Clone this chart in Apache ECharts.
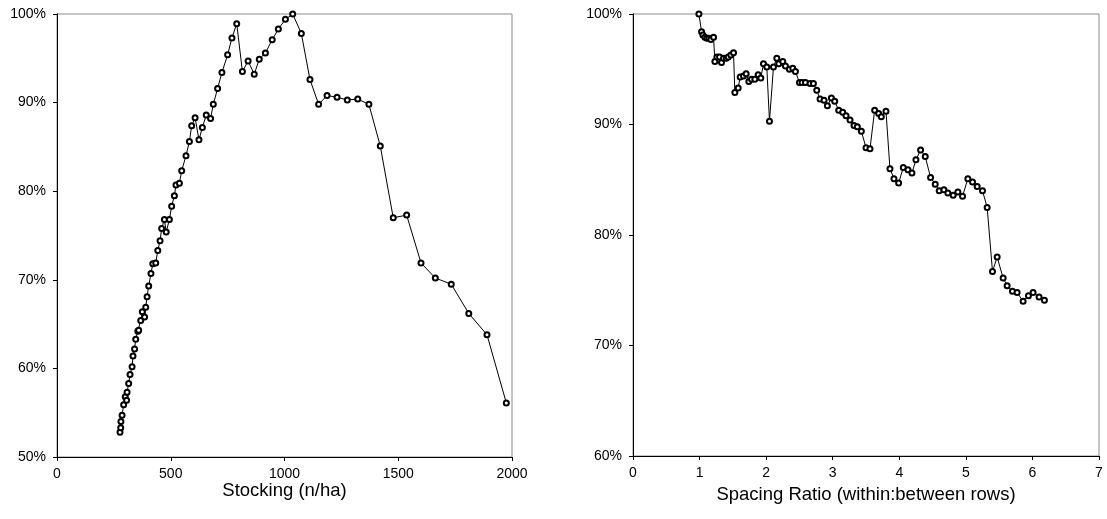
<!DOCTYPE html>
<html>
<head>
<meta charset="utf-8">
<script src="https://cdn.jsdelivr.net/npm/echarts@6/dist/echarts.min.js"></script>
<style>
html,body{margin:0;padding:0;background:#fff;}
#chart{width:1107px;height:519px;}
</style>
</head>
<body>
<div id="chart"></div>
<script>
// Left chart: Stocking (n/ha) vs relative value (%)
const stockingX = [277,280,281,286,293,300,306,308,315,321,330,334,341,346,355,359,368,375,385,390,396,403,413,421,434,443,453,460,472,480,494,504,516,523,538,548,567,582,592,607,624,639,656,675,687,706,725,750,769,790,815,840,867,889,916,946,973,1004,1036,1074,1112,1150,1187,1231,1276,1322,1371,1421,1478,1537,1600,1663,1733,1810,1890,1975];
const stockingY = [52.8,53.3,54.0,54.7,55.9,56.8,56.4,57.3,58.3,59.3,60.2,61.4,62.2,63.3,64.2,64.3,65.4,66.4,65.8,66.9,68.1,69.3,70.7,71.8,71.9,73.3,74.4,75.8,76.8,75.4,76.8,78.3,79.5,80.7,80.9,82.3,84.0,85.6,87.4,88.3,85.8,87.2,88.6,88.2,89.8,91.6,93.4,95.4,97.3,98.9,93.5,94.7,93.2,94.9,95.6,97.1,98.3,99.4,100.0,97.8,92.6,89.8,90.8,90.6,90.3,90.4,89.8,85.1,77.0,77.3,71.9,70.2,69.5,66.2,63.8,56.1];

// Right chart: Spacing ratio vs relative value (%)
const spacingX = [0.99,1.03,1.05,1.08,1.11,1.14,1.17,1.21,1.23,1.26,1.30,1.33,1.36,1.40,1.43,1.47,1.51,1.53,1.58,1.61,1.66,1.70,1.74,1.78,1.83,1.88,1.92,1.96,2.01,2.05,2.11,2.16,2.19,2.25,2.29,2.35,2.40,2.44,2.50,2.54,2.59,2.66,2.71,2.76,2.81,2.87,2.92,2.98,3.03,3.09,3.15,3.20,3.26,3.32,3.37,3.43,3.50,3.56,3.63,3.69,3.73,3.80,3.86,3.92,3.99,4.06,4.13,4.19,4.25,4.32,4.39,4.47,4.54,4.60,4.67,4.73,4.81,4.88,4.95,5.03,5.10,5.17,5.25,5.32,5.40,5.47,5.56,5.62,5.70,5.77,5.86,5.94,6.01,6.10,6.18];
const spacingY = [100.0,98.4,98.1,97.9,97.8,97.8,97.7,97.9,95.7,96.1,96.1,95.6,96.0,96.0,96.1,96.3,96.5,92.9,93.3,94.3,94.4,94.6,93.9,94.1,94.1,94.5,94.2,95.5,95.2,90.3,95.2,96.0,95.5,95.7,95.3,95.0,95.1,94.8,93.8,93.8,93.8,93.7,93.7,93.1,92.3,92.2,91.7,92.4,92.1,91.3,91.1,90.8,90.4,89.9,89.8,89.4,87.9,87.8,91.3,91.0,90.7,91.2,86.0,85.1,84.7,86.1,85.9,85.6,86.8,87.7,87.1,85.2,84.6,84.0,84.1,83.8,83.6,83.9,83.5,85.1,84.8,84.4,84.0,82.5,76.7,78.0,76.1,75.4,74.9,74.8,74.0,74.5,74.8,74.4,74.1];

const leftXTicks = {min:0, max:2000, interval:500};
const leftYTicks = {min:50, max:100, interval:10};
const rightXTicks = {min:0, max:7, interval:1};
const rightYTicks = {min:60, max:100, interval:10};

const pairs = (xs, ys) => xs.map((x, i) => [x, ys[i]]);

const FONT = 'Liberation Sans, Arial, sans-serif';
const axisCommon = {
  axisLine: {show: true, onZero: false, lineStyle: {color: '#000', width: 1}},
  axisTick: {show: true, inside: false, length: 4, lineStyle: {color: '#000'}},
  splitLine: {show: false}
};
const lbl = (size, margin, fmt) => ({color: '#000', fontFamily: FONT, fontSize: size, margin: margin, formatter: fmt});
const titleStyle = {color: '#000', fontFamily: FONT, fontSize: 18.5};

const chart = echarts.init(document.getElementById('chart'), null, {renderer: 'canvas'});
chart.setOption({
  animation: false,
  backgroundColor: '#fff',
  grid: [
    {left: 57, right: 595, top: 14, bottom: 62, show: true, borderColor: '#8c8c8c', borderWidth: 1, backgroundColor: 'transparent'},
    {left: 633, right: 8, top: 14, bottom: 63, show: true, borderColor: '#8c8c8c', borderWidth: 1, backgroundColor: 'transparent'}
  ],
  xAxis: [
    Object.assign({}, axisCommon, {
      type: 'value', gridIndex: 0, min: leftXTicks.min, max: leftXTicks.max, interval: leftXTicks.interval,
      name: 'Stocking (n/ha)', nameLocation: 'middle', nameGap: 24, nameMoveOverlap: false, nameTextStyle: titleStyle,
      axisLabel: lbl(14, 10, v => String(v))
    }),
    Object.assign({}, axisCommon, {
      type: 'value', gridIndex: 1, min: rightXTicks.min, max: rightXTicks.max, interval: rightXTicks.interval,
      name: 'Spacing Ratio (within:between rows)', nameLocation: 'middle', nameGap: 29, nameMoveOverlap: false, nameTextStyle: titleStyle,
      axisLabel: lbl(14, 10, v => String(v))
    })
  ],
  yAxis: [
    Object.assign({}, axisCommon, {
      type: 'value', gridIndex: 0, min: leftYTicks.min, max: leftYTicks.max, interval: leftYTicks.interval,
      axisLabel: lbl(14, 11, v => v + '%')
    }),
    Object.assign({}, axisCommon, {
      type: 'value', gridIndex: 1, min: rightYTicks.min, max: rightYTicks.max, interval: rightYTicks.interval,
      axisLabel: lbl(14, 11, v => v + '%')
    })
  ],
  series: [
    {
      type: 'line', xAxisIndex: 0, yAxisIndex: 0, data: pairs(stockingX, stockingY),
      symbol: 'emptyCircle', symbolSize: 5, showAllSymbol: true,
      lineStyle: {color: '#000', width: 1},
      itemStyle: {color: '#000', borderColor: '#000', borderWidth: 1.2},
      emphasis: {disabled: true}
    },
    {
      type: 'line', xAxisIndex: 1, yAxisIndex: 1, data: pairs(spacingX, spacingY),
      symbol: 'emptyCircle', symbolSize: 5, showAllSymbol: true,
      lineStyle: {color: '#000', width: 1},
      itemStyle: {color: '#000', borderColor: '#000', borderWidth: 1.2},
      emphasis: {disabled: true}
    }
  ]
});
</script>
</body>
</html>
